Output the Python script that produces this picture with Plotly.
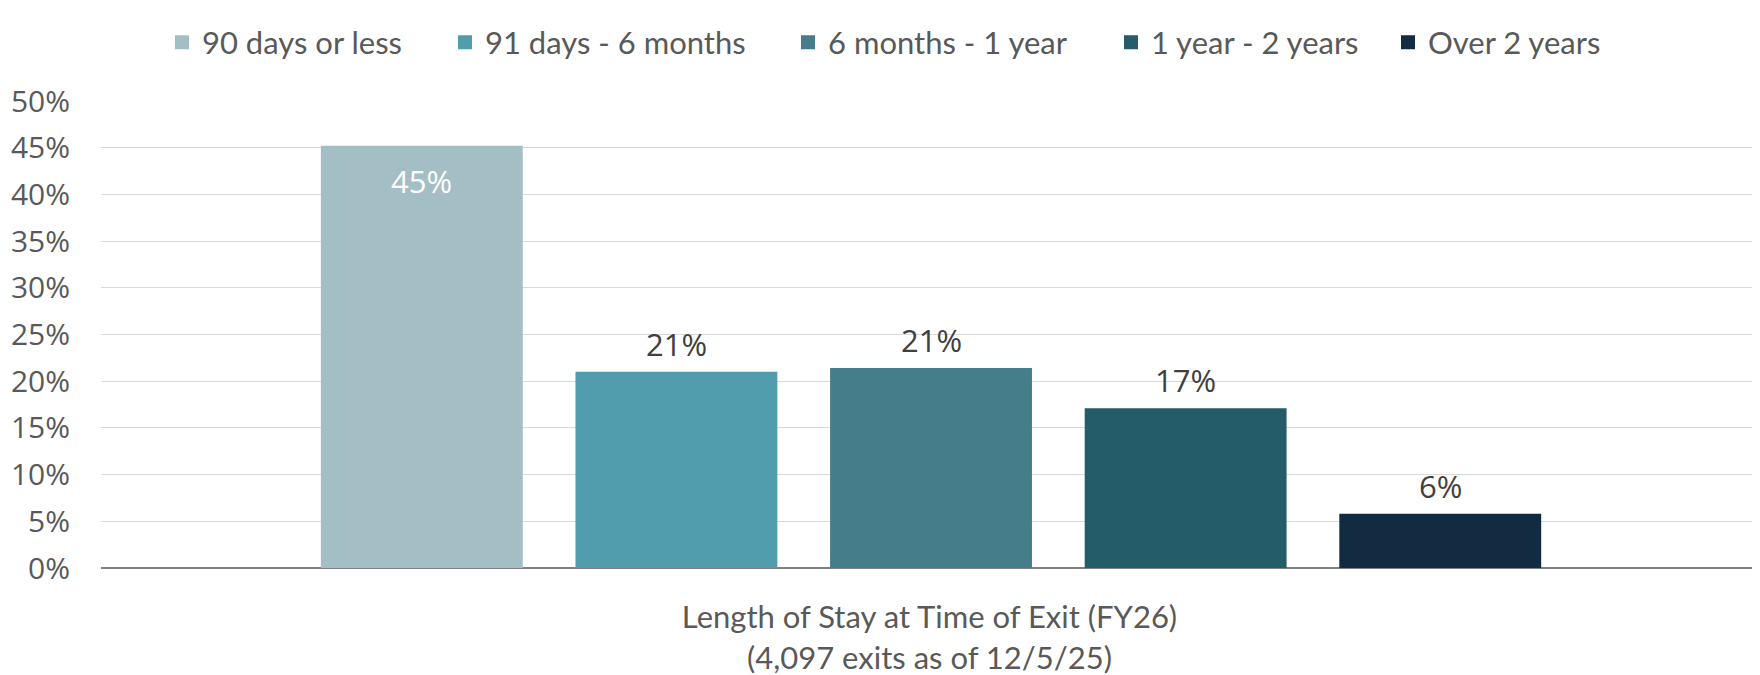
import plotly.graph_objects as go

categories = ["90 days or less", "91 days - 6 months", "6 months - 1 year", "1 year - 2 years", "Over 2 years"]
values = [45.1, 20.9, 21.3, 17.0, 5.7]
colors = ["#A3BEC4", "#519CAD", "#457D8A", "#245C69", "#122B40"]
y_ticks = [0, 5, 10, 15, 20, 25, 30, 35, 40, 45, 50]
y_tick_labels = [f"{t}%" for t in y_ticks]
x_title = "Length of Stay at Time of Exit (FY26)<br>(4,097 exits as of 12/5/25)"

# legend entry widths (style, px)
legend_entry_widths = [238, 298, 278, 232, None]

fig = go.Figure()
for cat, val, col, lw in zip(categories, values, colors, legend_entry_widths):
    fig.add_trace(go.Bar(x=[cat], y=[val], name=cat, marker=dict(color=col, line=dict(width=2, color=col)),
                         hoverinfo="skip", legendwidth=lw))

for i, (cat, val) in enumerate(zip(categories, values)):
    inside = i == 0
    fig.add_annotation(x=cat, y=val, text=f"{round(val)}%", showarrow=False,
                       yshift=-34 if inside else 29,
                       font=dict(family="Open Sans", size=31, color="#FFFFFF" if inside else "#404040"))

fig.update_layout(
    width=1760, height=675,
    margin=dict(l=93, r=10, t=93, b=115, autoexpand=False),
    paper_bgcolor="white", plot_bgcolor="white",
    barmode="overlay", bargap=0.215,
    showlegend=True,
    legend=dict(orientation="h", x=0.0368, xanchor="left", y=1.125, yanchor="middle",
                font=dict(family="Lato", size=31, color="#595959"),
                itemclick=False, itemdoubleclick=False, traceorder="normal"),
)
fig.update_xaxes(range=[-1.26, 5.248], showticklabels=False, showgrid=False, zeroline=False,
                 showline=False, ticks="",
                 title=dict(text=x_title, font=dict(family="Lato", size=31, color="#595959"), standoff=38))
fig.update_yaxes(range=[0, 50], tickvals=y_ticks, ticktext=y_tick_labels, showgrid=True,
                 gridcolor="#D9D9D9", gridwidth=1, zeroline=True, zerolinecolor="#808080", zerolinewidth=2,
                 tickfont=dict(family="Open Sans", size=30, color="#595959"), ticks="", ticklabelstandoff=30,
                 layer="below traces")

fig.write_html("out.html")
